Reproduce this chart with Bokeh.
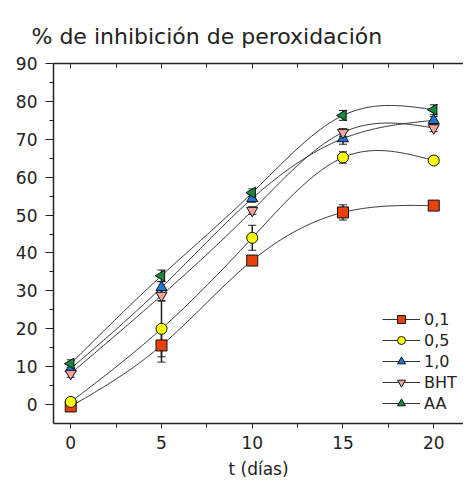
import numpy as np
from bokeh.plotting import figure
from bokeh.models import (Range1d, LinearAxis, FixedTicker, Legend, LegendItem,
                          Whisker, ColumnDataSource, CustomJSTickFormatter)
from bokeh.embed import file_html
from bokeh.resources import INLINE

# ---- data ----
t = [0, 5, 10, 15, 20]
names = ["0,1", "0,5", "1,0", "BHT", "AA"]
s01 = [-0.5, 15.6, 38.0, 50.7, 52.5]
s05 = [0.7, 20.0, 44.0, 65.2, 64.4]
s10 = [9.5, 30.9, 54.4, 70.2, 75.0]
sbht = [8.2, 28.8, 51.2, 71.8, 73.0]
saa = [10.8, 34.0, 55.9, 76.3, 77.8]
e01 = [0.5, 4.4, 1.0, 2.0, 1.0]
e05 = [1.0, 7.4, 3.3, 1.5, 1.0]
e10 = [1.0, 1.5, 1.0, 1.5, 1.0]
ebht = [1.0, 1.5, 1.0, 1.0, 1.0]
eaa = [1.0, 1.5, 1.0, 1.3, 1.3]
title_text = "% de inhibición de peroxidación"
x_label = "t (días)"

series = [s01, s05, s10, sbht, saa]
errors = [e01, e05, e10, ebht, eaa]
colors = ["#e8410c", "#ffff00", "#1e78d8", "#f4a3a3", "#138a3c"]
markers = ["square", "circle", "triangle", "inverted_triangle", "triangle"]
angles = [0, 0, 0, 0, np.pi / 2]
sizes = [11, 11, 11, 11, 11]

x_ticks = [0, 5, 10, 15, 20]
x_minor = [2.5, 7.5, 12.5, 17.5]
y_ticks = [0, 10, 20, 30, 40, 50, 60, 70, 80, 90]
y_minor = [5, 15, 25, 35, 45, 55, 65, 75, 85]


def natural_spline(xs, ys, n=200):
    xs = np.asarray(xs, float)
    ys = np.asarray(ys, float)
    k = len(xs)
    h = np.diff(xs)
    A = np.zeros((k, k))
    b = np.zeros(k)
    A[0, 0] = 1
    A[-1, -1] = 1
    for i in range(1, k - 1):
        A[i, i - 1] = h[i - 1]
        A[i, i] = 2 * (h[i - 1] + h[i])
        A[i, i + 1] = h[i]
        b[i] = 6 * ((ys[i + 1] - ys[i]) / h[i] - (ys[i] - ys[i - 1]) / h[i - 1])
    M = np.linalg.solve(A, b)
    xx = np.linspace(xs[0], xs[-1], n)
    yy = np.empty_like(xx)
    for j, x in enumerate(xx):
        i = min(np.searchsorted(xs, x, side="right") - 1, k - 2)
        a = xs[i + 1] - x
        c = x - xs[i]
        yy[j] = (M[i] * a ** 3 / (6 * h[i]) + M[i + 1] * c ** 3 / (6 * h[i])
                 + (ys[i] / h[i] - M[i] * h[i] / 6) * a
                 + (ys[i + 1] / h[i] - M[i + 1] * h[i] / 6) * c)
    return xx, yy


FONT = "DejaVu Sans"
TXT = "#222222"

p = figure(width=463, height=481, output_backend="svg",
           toolbar_location=None, x_axis_location=None, y_axis_location=None,
           x_range=Range1d(-0.95, 21.64), y_range=Range1d(-5, 90),
           min_border_left=53, min_border_right=0, min_border_top=63,
           min_border_bottom=58)
p.xgrid.visible = False
p.ygrid.visible = False
p.outline_line_color = None
p.background_fill_color = "white"
p.border_fill_color = "white"

p.title.text = title_text
p.title.align = "left"
p.title.offset = -22
p.title.text_font = FONT
p.title.text_font_size = "22px"
p.title.text_font_style = "normal"
p.title.text_color = TXT
p.title.standoff = 30

# axes
xb = LinearAxis(ticker=FixedTicker(ticks=x_ticks, minor_ticks=x_minor))
xb.axis_label = x_label
xb.axis_label_text_font = FONT
xb.axis_label_text_font_size = "17px"
xb.axis_label_text_font_style = "normal"
xb.axis_label_text_color = TXT
xb.axis_label_standoff = 7
xb.major_label_text_font = FONT
xb.major_label_text_font_size = "17px"
xb.major_label_text_color = TXT
xb.major_label_standoff = 7
xb.major_tick_in = 0
xb.major_tick_out = 5
xb.minor_tick_in = 0
xb.minor_tick_out = 4
xb.axis_line_width = 1.5
xb.axis_line_color = TXT
xb.major_tick_line_color = TXT
xb.minor_tick_line_color = TXT
p.add_layout(xb, "below")

xt = LinearAxis(ticker=FixedTicker(ticks=x_ticks, minor_ticks=x_minor),
                formatter=CustomJSTickFormatter(code="return ''"))
xt.major_label_text_font_size = "1px"
xt.major_label_standoff = 0
xt.major_tick_in = 5
xt.major_tick_out = 0
xt.minor_tick_in = 4
xt.minor_tick_out = 0
xt.axis_line_width = 1.5
xt.axis_line_color = TXT
xt.major_tick_line_color = TXT
xt.minor_tick_line_color = TXT
p.add_layout(xt, "above")

yl = LinearAxis(ticker=FixedTicker(ticks=y_ticks, minor_ticks=y_minor))
yl.major_label_text_font = FONT
yl.major_label_text_font_size = "17px"
yl.major_label_text_color = TXT
yl.major_label_standoff = 8
yl.major_tick_in = 0
yl.major_tick_out = 8
yl.minor_tick_in = 0
yl.minor_tick_out = 4
yl.axis_line_width = 1.5
yl.axis_line_color = TXT
yl.major_tick_line_color = TXT
yl.minor_tick_line_color = TXT
p.add_layout(yl, "left")

items = []
line_rs = []
for s in series:
    xx, yy = natural_spline(t, s)
    line_rs.append(p.line(xx, yy, line_color="#333333", line_width=1))

for s, e in zip(series, errors):
    src = ColumnDataSource(dict(x=t, lo=[v - d for v, d in zip(s, e)],
                                hi=[v + d for v, d in zip(s, e)]))
    w = Whisker(source=src, base="x", lower="lo", upper="hi",
                line_color="#222222", line_width=1.5)
    w.upper_head.size = 8
    w.lower_head.size = 8
    w.upper_head.line_color = "#222222"
    w.lower_head.line_color = "#222222"
    p.add_layout(w)

for name, s, c, m, a, sz, lr in zip(names, series, colors, markers, angles, sizes, line_rs):
    r = p.scatter(t, s, marker=m, size=sz, angle=a, fill_color=c,
                  line_color="#111111", line_width=1)
    items.append(LegendItem(label=name, renderers=[lr, r]))

legend = Legend(items=items, location=(329, 10), orientation="vertical")
legend.background_fill_alpha = 0
legend.border_line_color = None
legend.padding = 0
legend.margin = 0
legend.spacing = 1
legend.glyph_width = 38
legend.glyph_height = 20
legend.label_standoff = 4
legend.label_text_font = FONT
legend.label_text_font_size = "16px"
legend.label_text_color = TXT
legend.label_height = 20
p.add_layout(legend)

open("out.html", "w").write(file_html(p, INLINE))
